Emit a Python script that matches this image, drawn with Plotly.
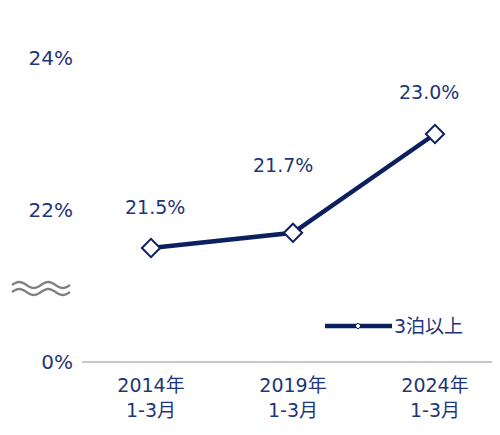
import math
import plotly.graph_objects as go

categories = ["2014年<br>1-3月", "2019年<br>1-3月", "2024年<br>1-3月"]
values = [21.5, 21.7, 23.0]
value_labels = ["21.5%", "21.7%", "23.0%"]
series_name = "3泊以上"
ytick_vals = [20.0, 22.0, 24.0]       # 20.0 stands for the broken-axis "0%"
ytick_text = ["0%", "22%", "24%"]

NAVY = "#0c2060"
TEXT = "#1e3679"
FONT = "DejaVu Sans, Noto Sans CJK JP, sans-serif"
FS = 19

OFF = 8  # page body margin
W, H = 492, 427
L, R, T, B = 74, 0, 22, 73
PW, PH = W - L - R, H - T - B

xs = list(range(len(categories)))

fig = go.Figure()
fig.add_trace(go.Scatter(
    x=xs, y=values, mode="lines+markers", name=series_name,
    line=dict(color=NAVY, width=4.5),
    marker=dict(symbol="diamond", size=14, color="white",
                line=dict(color=NAVY, width=2)),
    showlegend=False, cliponaxis=False,
))

label_shift = [(4, 41), (-10, 68), (-6, 42)]
for x, v, t, (dx, dy) in zip(xs, values, value_labels, label_shift):
    fig.add_annotation(x=x, y=v, text=t, showarrow=False, xshift=dx, yshift=dy,
                       font=dict(family=FONT, size=FS, color=TEXT))


def px(x):
    return (x - OFF - L) / PW


def py(y):
    return (H - B - (y - OFF)) / PH


# axis baseline
fig.add_shape(type="line", xref="paper", yref="paper", x0=0, x1=1, y0=0, y1=0,
              line=dict(color="#c8c8c8", width=2))

# break symbol (two waves)
for yc in (285, 292):
    pts = []
    x0, x1 = 12, 70
    n = 40
    for i in range(n + 1):
        xx = x0 + (x1 - x0) * i / n
        yy = yc - 3.0 * math.sin(2 * math.pi * 2 * (xx - x0) / (x1 - x0))
        pts.append((px(xx), py(yy)))
    path = "M" + " L".join(f"{a:.4f},{b:.4f}" for a, b in pts)
    fig.add_shape(type="path", xref="paper", yref="paper", path=path,
                  line=dict(color="#808080", width=2.4))

# manual legend
ly = 326
fig.add_shape(type="line", xref="paper", yref="paper", x0=px(325), x1=px(392),
              y0=py(ly), y1=py(ly), line=dict(color=NAVY, width=4.5))
d = 3
fig.add_shape(type="path", xref="paper", yref="paper",
              path=f"M{px(358-d):.4f},{py(ly):.4f} L{px(358):.4f},{py(ly-d):.4f} "
                   f"L{px(358+d):.4f},{py(ly):.4f} L{px(358):.4f},{py(ly+d):.4f} Z",
              fillcolor="white", line=dict(color=NAVY, width=1))
fig.add_annotation(xref="paper", yref="paper", x=px(392), y=py(ly), text=series_name,
                   showarrow=False, xanchor="left", yanchor="middle",
                   font=dict(family=FONT, size=FS, color=TEXT))

fig.update_layout(
    width=W, height=H,
    margin=dict(l=L, r=R, t=T, b=B),
    paper_bgcolor="white", plot_bgcolor="white",
    font=dict(family=FONT, size=FS, color=TEXT),
    xaxis=dict(range=[-0.486, 2.458], tickvals=xs, ticktext=categories,
               showgrid=False, zeroline=False, showline=False, ticks="",
               ticklabelstandoff=10, tickfont=dict(size=FS, color=TEXT)),
    yaxis=dict(range=[20.0, 20.0 + PH / 76.0], tickvals=ytick_vals, ticktext=ytick_text,
               showgrid=False, zeroline=False, showline=False, ticks="",
               ticklabelstandoff=8, tickfont=dict(size=20, color=TEXT)),
)

fig.write_html("out.html")
